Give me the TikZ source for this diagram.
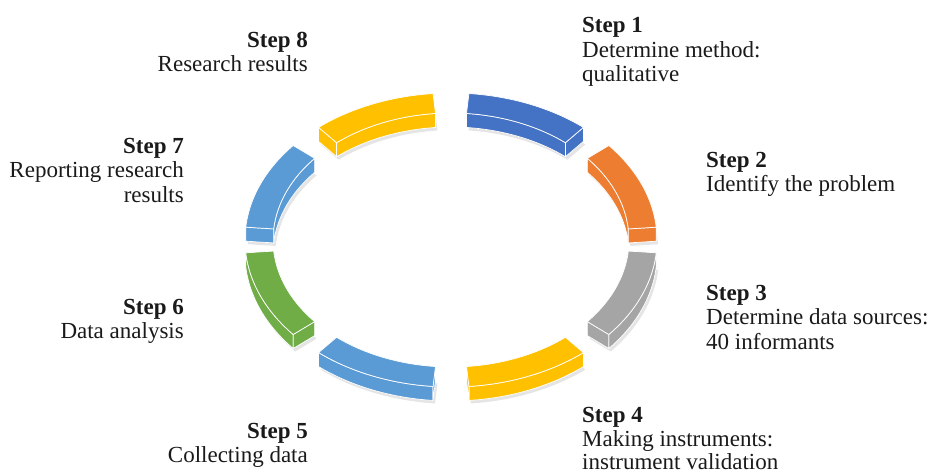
\documentclass[tikz,border=0pt]{standalone}
\usepackage{fontspec}
\setmainfont{Liberation Serif}
\definecolor{sblue}{HTML}{4472C4}
\definecolor{sorange}{HTML}{ED7D31}
\definecolor{sgray}{HTML}{A5A5A5}
\definecolor{syellow}{HTML}{FFC000}
\definecolor{slblue}{HTML}{5B9BD5}
\definecolor{sgreen}{HTML}{70AD47}
\definecolor{stext}{HTML}{1A1A1A}
\def\RCx{451}\def\RCy{240}
\def\RXo{206}\def\RYo{147}
\def\RXi{178}\def\RYi{127}
\def\RH{14}
% #1 a1, #2 a2, #3 colour, #4 #5 wall radii, #6 visible end angle
\newcommand\ringseg[6]{%
  \fill[black,opacity=0.10] plot[domain=#1:#2,samples=40] ({\RCx+2+\RXo*cos(\x)},{\RCy+\RH+3-\RYo*sin(\x)})
    -- plot[domain=#2:#1,samples=40] ({\RCx+2+\RXi*cos(\x)},{\RCy+\RH+3-\RYi*sin(\x)}) -- cycle;
  \filldraw[fill=#3,segline] plot[domain=#1:#2,samples=40] ({\RCx+#4*cos(\x)},{\RCy-#5*sin(\x)})
    -- plot[domain=#2:#1,samples=40] ({\RCx+#4*cos(\x)},{\RCy+\RH-#5*sin(\x)}) -- cycle;
  \filldraw[fill=#3,segline] ({\RCx+\RXo*cos(#6)},{\RCy-\RYo*sin(#6)})
    -- ({\RCx+\RXi*cos(#6)},{\RCy-\RYi*sin(#6)})
    -- ({\RCx+\RXi*cos(#6)},{\RCy+\RH-\RYi*sin(#6)})
    -- ({\RCx+\RXo*cos(#6)},{\RCy+\RH-\RYo*sin(#6)}) -- cycle;
  \filldraw[fill=#3,segline] plot[domain=#1:#2,samples=40] ({\RCx+\RXo*cos(\x)},{\RCy-\RYo*sin(\x)})
    -- plot[domain=#2:#1,samples=40] ({\RCx+\RXi*cos(\x)},{\RCy-\RYi*sin(\x)}) -- cycle;
}
\begin{document}
\begin{tikzpicture}[x=1pt,y=-1pt,
  segline/.style={draw=white,line width=0.7pt,line join=round},
  lbl/.style={inner sep=0pt,text=stext,font=\fontsize{23}{24}\selectfont}]
\useasboundingbox[fill=white] (0,0) rectangle (930,475);
% segments
\ringseg{95}{130}{syellow}{\RXi}{\RYi}{130}
\ringseg{50}{85}{sblue}{\RXi}{\RYi}{50}
\ringseg{5}{40}{sorange}{\RXi}{\RYi}{5}
\ringseg{140}{175}{slblue}{\RXi}{\RYi}{175}
\ringseg{-40}{-5}{sgray}{\RXo}{\RYo}{-40}
\ringseg{-85}{-50}{syellow}{\RXo}{\RYo}{-85}
\ringseg{-130}{-95}{slblue}{\RXo}{\RYo}{-95}
\ringseg{-175}{-140}{sgreen}{\RXo}{\RYo}{-140}
% labels
\node[lbl,anchor=base west] (s1a) at (582,32) {\textbf{Step 1}};
\node[lbl,anchor=base west] (s1b) at (582,57) {Determine method:};
\node[lbl,anchor=base west] (s1c) at (582,81.5) {qualitative};
\node[lbl,anchor=base west] (s2a) at (706,167) {\textbf{Step 2}};
\node[lbl,anchor=base west] (s2b) at (706,191.5) {Identify the problem};
\node[lbl,anchor=base west] (s3a) at (706,300) {\textbf{Step 3}};
\node[lbl,anchor=base west] (s3b) at (706,324.5) {Determine data sources:};
\node[lbl,anchor=base west] (s3c) at (706,349) {40 informants};
\node[lbl,anchor=base west] (s4a) at (582,422) {\textbf{Step 4}};
\node[lbl,anchor=base west] (s4b) at (582,446) {Making instruments:};
\node[lbl,anchor=base west] (s4c) at (582,469.5) {instrument validation};
\node[lbl,anchor=base east] (s5a) at (308,438) {\textbf{Step 5}};
\node[lbl,anchor=base east] (s5b) at (308,462.5) {Collecting data};
\node[lbl,anchor=base east] (s6a) at (184,314) {\textbf{Step 6}};
\node[lbl,anchor=base east] (s6b) at (184,338.5) {Data analysis};
\node[lbl,anchor=base east] (s7a) at (184,153) {\textbf{Step 7}};
\node[lbl,anchor=base east] (s7b) at (184,177.5) {Reporting research};
\node[lbl,anchor=base east] (s7c) at (184,202) {results};
\node[lbl,anchor=base east] (s8a) at (308,47) {\textbf{Step 8}};
\node[lbl,anchor=base east] (s8b) at (308,71.5) {Research results};
\end{tikzpicture}
\end{document}
